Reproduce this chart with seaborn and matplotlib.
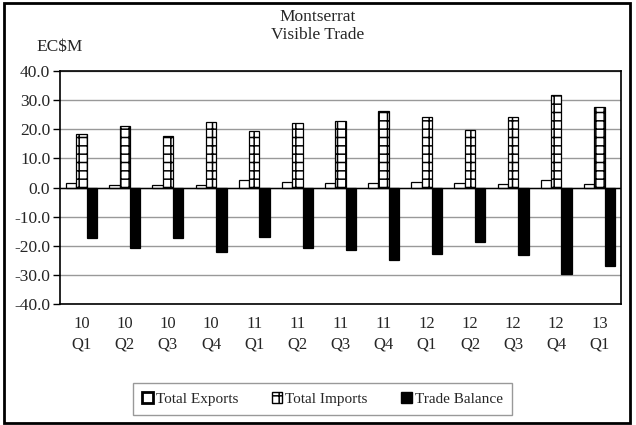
import matplotlib
matplotlib.use("Agg")
import matplotlib.pyplot as plt
import matplotlib.patches as mpatches
import seaborn as sns
import pandas as pd
import numpy as np

periods = ["10\nQ1", "10\nQ2", "10\nQ3", "10\nQ4", "11\nQ1", "11\nQ2", "11\nQ3",
           "11\nQ4", "12\nQ1", "12\nQ2", "12\nQ3", "12\nQ4", "13\nQ1"]
exports = [1.5, 0.7, 0.9, 0.8, 2.7, 1.8, 1.5, 1.6, 1.8, 1.5, 1.1, 2.6, 1.2]
imports = [18.5, 21.0, 17.8, 22.4, 19.3, 22.2, 22.9, 26.1, 24.2, 19.9, 24.1, 31.8, 27.7]
balance = [-17.4, -20.8, -17.4, -22.0, -17.1, -20.9, -21.6, -25.0, -22.8, -18.8, -23.2, -29.8, -27.1]
series_names = ["Total Exports", "Total Imports", "Trade Balance"]
yticks = [-40, -30, -20, -10, 0, 10, 20, 30, 40]

df = pd.DataFrame({
    "period": periods * 3,
    "value": exports + imports + balance,
    "series": [series_names[0]] * len(periods) + [series_names[1]] * len(periods)
              + [series_names[2]] * len(periods),
})

sns.set_style("white")
plt.rcParams["font.family"] = ["Liberation Serif", "DejaVu Serif"]
plt.rcParams["hatch.linewidth"] = 1.1

fig = plt.figure(figsize=(6.36, 4.25), dpi=100)
ax = fig.add_axes([60 / 636, 1 - 304 / 425, (621 - 60) / 636, (304 - 71) / 425])

colors = ["white", "white", "black"]
sns.barplot(data=df, x="period", y="value", hue="series", order=periods,
            hue_order=series_names, palette=colors, width=0.72,
            edgecolor="black", linewidth=0.9, ax=ax, legend=False, zorder=3)

hatches = [None, "++", None]
for cont, h in zip(ax.containers, hatches):
    for p in cont:
        if h:
            p.set_hatch(h)

ax.set_ylim(-40, 40)
ax.set_yticks(yticks)
ax.set_yticklabels([f"{v:.1f}" for v in yticks], fontsize=12.5)
ax.set_xticks(range(len(periods)))
ax.set_xticklabels(periods, fontsize=12, linespacing=1.35)
ax.set_xlim(-0.5, len(periods) - 0.5)
ax.set_xlabel("")
ax.set_ylabel("")
ax.yaxis.grid(True, color="#999999", linewidth=1, zorder=0)
ax.set_axisbelow(True)
ax.axhline(0, color="black", linewidth=1, zorder=4)
ax.tick_params(axis="y", which="major", direction="out", length=5, width=1, left=True,
               color="black", pad=2)
ax.tick_params(axis="x", length=0, pad=9)
for s in ax.spines.values():
    s.set_visible(True)
    s.set_color("black")
    s.set_linewidth(1.2)

fig.text(318 / 636, 1 - 9 / 425, "Montserrat\nVisible Trade", ha="center", va="top",
         fontsize=12.5, linespacing=1.15)
fig.text(36 / 636, 1 - 47 / 425, "EC$M", ha="left", va="center", fontsize=12.5)

handles = [mpatches.Patch(facecolor="white", edgecolor="black", linewidth=2),
           mpatches.Patch(facecolor="white", edgecolor="black", hatch="++", linewidth=1),
           mpatches.Patch(facecolor="black", edgecolor="black")]
leg = fig.legend(handles, series_names, loc="center", ncol=3,
                 bbox_to_anchor=(135 / 636, 1 - 416 / 425, 375 / 636, 34 / 425),
                 frameon=True, fancybox=False, edgecolor="#999999", framealpha=1,
                 fontsize=11, handlelength=0.7, handleheight=0.7, handletextpad=0.2,
                 columnspacing=2.2, borderpad=0.6)
leg.get_frame().set_linewidth(1)

fig.patches.append(mpatches.Rectangle((4 / 636, 2 / 425), 626 / 636, 420 / 425,
                                      transform=fig.transFigure, fill=False,
                                      edgecolor="black", linewidth=2))

fig.savefig("out.png", dpi=100)
